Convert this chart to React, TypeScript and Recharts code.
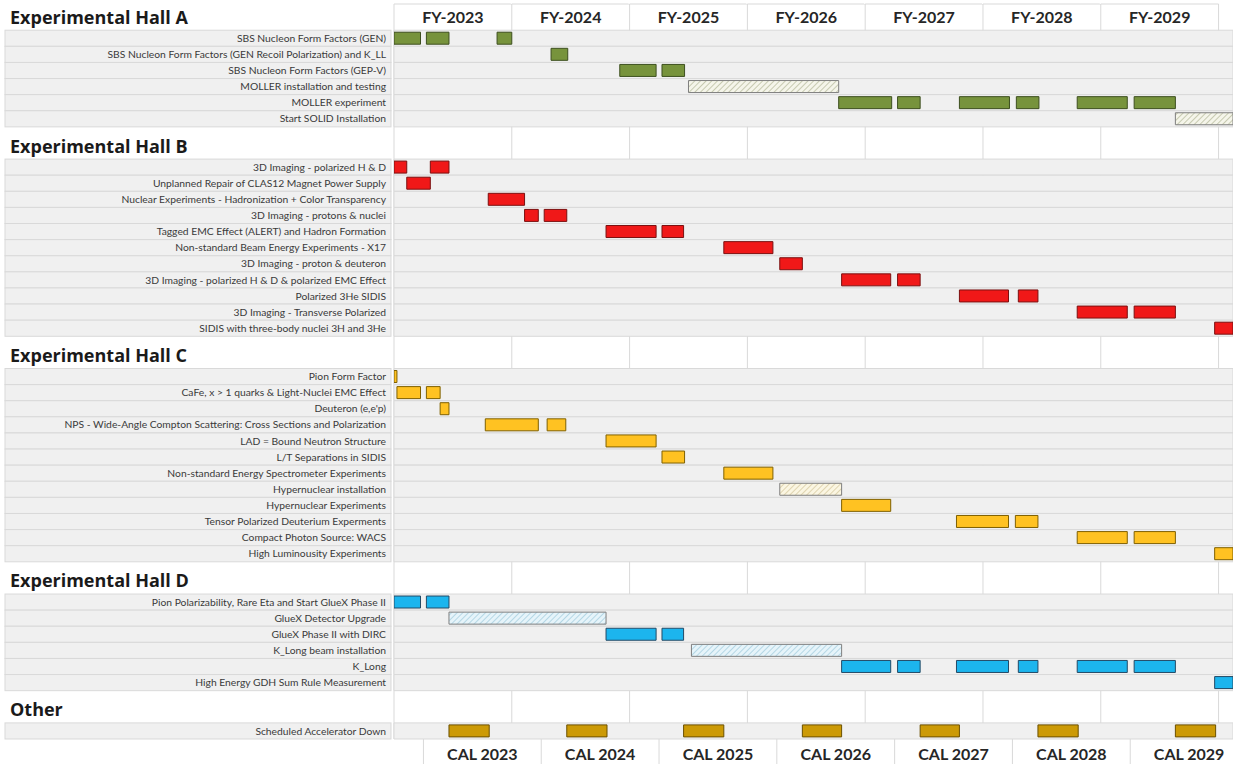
import { BarChart, Bar, Cell, XAxis, YAxis, CartesianGrid, ReferenceArea } from 'recharts'

// time is counted in months from 1 Oct 2022 (start of FY-2023)
type Span = [number, number] | [number, number, 'install']

const fyLabels = ['FY-2023', 'FY-2024', 'FY-2025', 'FY-2026', 'FY-2027', 'FY-2028', 'FY-2029']
const fyBounds = [0, 12, 24, 36, 48, 60, 72, 84]
const fyMids = [6, 18, 30, 42, 54, 66, 78]

const calLabels = ['CAL 2023', 'CAL 2024', 'CAL 2025', 'CAL 2026', 'CAL 2027', 'CAL 2028', 'CAL 2029']
const calBounds = [3, 15, 27, 39, 51, 63, 75]
const calMids = [9, 21, 33, 45, 57, 69, 81]

const hallATasks = [
  'SBS Nucleon Form Factors (GEN)',
  'SBS Nucleon Form Factors (GEN Recoil Polarization) and K_LL',
  'SBS Nucleon Form Factors (GEP-V)',
  'MOLLER installation and testing',
  'MOLLER experiment',
  'Start SOLID Installation',
]
const hallASpans: Span[][] = [
  [[0, 2.7], [3.3, 5.6], [10.5, 12]],
  [[16, 17.7]],
  [[23, 26.7], [27.3, 29.6]],
  [[30, 45.3, 'install']],
  [[45.3, 50.7], [51.3, 53.6], [57.6, 62.7], [63.4, 65.7], [69.6, 74.7], [75.4, 79.6]],
  [[79.6, 90, 'install']],
]

const hallBTasks = [
  '3D Imaging - polarized H & D',
  'Unplanned Repair of CLAS12 Magnet Power Supply',
  'Nuclear Experiments - Hadronization + Color Transparency',
  '3D Imaging - protons & nuclei',
  'Tagged EMC Effect (ALERT) and Hadron Formation',
  'Non-standard Beam Energy Experiments - X17',
  '3D Imaging - proton & deuteron',
  '3D Imaging - polarized H & D & polarized EMC Effect',
  'Polarized 3He SIDIS',
  '3D Imaging - Transverse Polarized',
  'SIDIS with three-body nuclei 3H and 3He',
]
const hallBSpans: Span[][] = [
  [[0, 1.3], [3.7, 5.6]],
  [[1.3, 3.7]],
  [[9.6, 13.3]],
  [[13.3, 14.7], [15.3, 17.6]],
  [[21.6, 26.7], [27.3, 29.5]],
  [[33.6, 38.6]],
  [[39.3, 41.6]],
  [[45.6, 50.6], [51.3, 53.6]],
  [[57.6, 62.6], [63.6, 65.6]],
  [[69.6, 74.7], [75.4, 79.6]],
  [[83.6, 90]],
]

const hallCTasks = [
  'Pion Form Factor',
  'CaFe, x > 1 quarks & Light-Nuclei EMC Effect',
  'Deuteron (e,e\'p)',
  'NPS - Wide-Angle Compton Scattering: Cross Sections and Polarization',
  'LAD = Bound Neutron Structure',
  'L/T Separations in SIDIS',
  'Non-standard Energy Spectrometer Experiments',
  'Hypernuclear installation',
  'Hypernuclear Experiments',
  'Tensor Polarized Deuterium Experments',
  'Compact Photon Source: WACS',
  'High Luminousity Experiments',
]
const hallCSpans: Span[][] = [
  [[0, 0.3]],
  [[0.3, 2.7], [3.3, 4.7]],
  [[4.7, 5.6]],
  [[9.3, 14.7], [15.6, 17.5]],
  [[21.6, 26.7]],
  [[27.3, 29.6]],
  [[33.6, 38.6]],
  [[39.3, 45.6, 'install']],
  [[45.6, 50.6]],
  [[57.3, 62.6], [63.3, 65.6]],
  [[69.6, 74.7], [75.4, 79.6]],
  [[83.6, 90]],
]

const hallDTasks = [
  'Pion Polarizability, Rare Eta and Start GlueX Phase II',
  'GlueX Detector Upgrade',
  'GlueX Phase II with DIRC',
  'K_Long beam installation',
  'K_Long',
  'High Energy GDH Sum Rule Measurement',
]
const hallDSpans: Span[][] = [
  [[0, 2.7], [3.3, 5.6]],
  [[5.6, 21.6, 'install']],
  [[21.6, 26.7], [27.3, 29.5]],
  [[30.3, 45.6, 'install']],
  [[45.6, 50.6], [51.3, 53.6], [57.3, 62.6], [63.6, 65.6], [69.6, 74.7], [75.4, 79.6]],
  [[83.6, 90]],
]

const otherTasks = ['Scheduled Accelerator Down']
const otherSpans: Span[][] = [
  [[5.6, 9.7], [17.6, 21.7], [29.5, 33.6], [41.6, 45.6], [53.6, 57.6], [65.6, 69.7], [79.6, 83.7]],
]

const groups = [
  { title: 'Experimental Hall A', tasks: hallATasks, spans: hallASpans, fill: '#77933C', edge: '#3D4F1F', hatchBg: '#F5F5EA', hatchLine: '#A8AD8A' },
  { title: 'Experimental Hall B', tasks: hallBTasks, spans: hallBSpans, fill: '#F01818', edge: '#7A1010', hatchBg: '#FBEAEA', hatchLine: '#D29C9C' },
  { title: 'Experimental Hall C', tasks: hallCTasks, spans: hallCSpans, fill: '#FFC222', edge: '#7F6000', hatchBg: '#FBF6E2', hatchLine: '#CDBE8E' },
  { title: 'Experimental Hall D', tasks: hallDTasks, spans: hallDSpans, fill: '#1CB5EE', edge: '#234A66', hatchBg: '#E6F4FA', hatchLine: '#94C4D8' },
  { title: 'Other', tasks: otherTasks, spans: otherSpans, fill: '#CC9A06', edge: '#6B5000', hatchBg: '#F7EFD8', hatchLine: '#C8B27A' },
]

type Row = { id: string; kind: 'gap' | 'title' | 'task'; group: number; spans: Span[] }
const rows: Row[] = []
groups.forEach((g, gi) => {
  rows.push({ id: `__gap${gi}`, kind: 'gap', group: gi, spans: [] })
  rows.push({ id: g.title, kind: 'title', group: gi, spans: [] })
  g.tasks.forEach((t, ti) => rows.push({ id: t, kind: 'task', group: gi, spans: g.spans[ti] }))
})
const rowById: Record<string, Row> = Object.fromEntries(rows.map((r) => [r.id, r]))

const MAX_SEGS = 7
// stacked gantt: transparent lead-in (p) then visible duration (d) per segment
const data = rows.map((r) => {
  const d: Record<string, any> = { id: r.id }
  let prev = 0
  for (let k = 0; k < MAX_SEGS; k++) {
    const s = r.spans[k]
    d[`p${k}`] = s ? s[0] - prev : 0
    d[`d${k}`] = s ? s[1] - s[0] : 0
    if (s) prev = s[1]
  }
  return d
})

const W = 1233
const H = 764
const LABEL_W = 394
const FY_H = 1
const TOP = -3
const CAL_H = 25
const X_MAX = 85.47
const ROW_H = (H - CAL_H - TOP - FY_H) / rows.length
const PX_PER_MONTH = (W - LABEL_W) / X_MAX
const FONT = 'Lato, "Open Sans", sans-serif'
const TITLE_FONT = '"Open Sans", Lato, sans-serif'

function RowTick(props: any) {
  const { y, payload } = props
  const row = rowById[payload.value]
  if (!row || row.kind === 'gap') return <g />
  if (row.kind === 'title') {
    return (
      <text x={10} y={y + 1.5} fontSize={18} fontWeight={700} fill="#1a1a1a" fontFamily={TITLE_FONT}>
        {row.id}
      </text>
    )
  }
  return (
    <g>
      <rect x={5} y={y - ROW_H / 2} width={386} height={ROW_H} fill="#f0f0f0" stroke="#d9d9d9" />
      <text x={386} y={y} dy="0.35em" textAnchor="end" fontSize={10.3} fill="#3a3a3a" fontFamily={FONT}>
        {row.id}
      </text>
    </g>
  )
}

// y is the bottom of the 1px top axis, i.e. the top of the plot
function FyTick(props: any) {
  const { x, y, index } = props
  const half = PX_PER_MONTH * 6
  const top = y - FY_H
  return (
    <g>
      <rect x={x - half - 1} y={top - 1} width={half * 2 + 2} height={8} fill="#fff" />
      <line x1={x - half} x2={x + half} y1={top + 7} y2={top + 7} stroke="#d9d9d9" />
      <text x={x} y={top + 26} textAnchor="middle" fontSize={16} fontWeight={700} fill="#262626" fontFamily={FONT}>
        {fyLabels[index]}
      </text>
    </g>
  )
}

function CalTick(props: any) {
  const { x, y, payload } = props
  const v = payload.value
  const bi = calBounds.indexOf(v)
  if (bi >= 0) return <line x1={x} x2={x} y1={y} y2={y + CAL_H} stroke="#d9d9d9" />
  return (
    <text x={x} y={y + 21} textAnchor="middle" fontSize={16} fontWeight={700} fill="#262626" fontFamily={FONT}>
      {calLabels[calMids.indexOf(v)]}
    </text>
  )
}

export default function App() {
  return (
    <div style={{ position: 'absolute', left: 0, top: 0, width: W, height: H, background: '#fff' }}>
      <BarChart
        width={W}
        height={H}
        data={data}
        layout="vertical"
        margin={{ top: TOP, right: 0, bottom: 0, left: 0 }}
        barSize={12}
        barCategoryGap={0}
      >
        <defs>
          {groups.map((g, gi) => (
            <pattern key={gi} id={`hatch${gi}`} width="4" height="4" patternUnits="userSpaceOnUse" patternTransform="rotate(45)">
              <rect width="4" height="4" fill={g.hatchBg} />
              <line x1="0" y1="0" x2="0" y2="4" stroke={g.hatchLine} strokeWidth="1.2" />
            </pattern>
          ))}
        </defs>
        <CartesianGrid xAxisId="fy" horizontal={false} verticalValues={fyBounds} stroke="#d9d9d9" />
        <XAxis
          xAxisId="fy"
          orientation="top"
          type="number"
          domain={[0, X_MAX]}
          allowDataOverflow
          ticks={fyMids}
          interval={0}
          height={FY_H}
          tickSize={0}
          tickMargin={0}
          tickLine={false}
          axisLine={false}
          tick={<FyTick />}
        />
        <XAxis
          xAxisId="cal"
          orientation="bottom"
          type="number"
          domain={[0, X_MAX]}
          allowDataOverflow
          ticks={[...calBounds, ...calMids].sort((a, b) => a - b)}
          interval={0}
          height={CAL_H}
          tickSize={0}
          tickMargin={0}
          tickLine={false}
          axisLine={false}
          tick={<CalTick />}
        />
        <YAxis
          type="category"
          dataKey="id"
          width={LABEL_W}
          interval={0}
          tickLine={false}
          axisLine={false}
          tick={<RowTick />}
        />
        {rows
          .filter((r) => r.kind === 'task')
          .map((r) => (
            <ReferenceArea
              key={r.id}
              xAxisId="fy"
              y1={r.id}
              y2={r.id}
              fill="#f0f0f0"
              fillOpacity={1}
              stroke="#d9d9d9"
            />
          ))}
        {Array.from({ length: MAX_SEGS }).flatMap((_, k) => [
          <Bar key={`p${k}`} xAxisId="cal" dataKey={`p${k}`} stackId="g" fill="transparent" isAnimationActive={false} />,
          <Bar key={`d${k}`} xAxisId="cal" dataKey={`d${k}`} stackId="g" isAnimationActive={false}>
            {rows.map((r) => {
              const s = r.spans[k]
              const g = groups[r.group]
              const install = s && s[2] === 'install'
              return (
                <Cell
                  key={r.id}
                  fill={s ? (install ? `url(#hatch${r.group})` : g.fill) : 'none'}
                  stroke={s ? (install ? '#7f7f7f' : g.edge) : 'none'}
                  strokeWidth={1}
                />
              )
            })}
          </Bar>,
        ])}
      </BarChart>
    </div>
  )
}
